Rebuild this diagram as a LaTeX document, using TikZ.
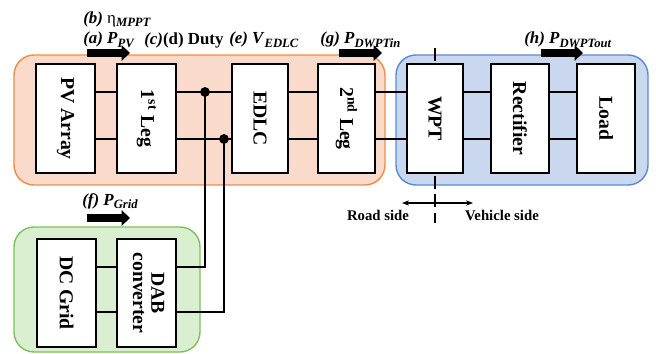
\documentclass[tikz,border=0pt]{standalone}
\usepackage{fontspec}
\usepackage{graphicx}
\usepackage{tikz}
\setmainfont{Liberation Serif}
\usetikzlibrary{arrows.meta}
\definecolor{roadfill}{HTML}{FADACA}
\definecolor{roadedge}{HTML}{F08C45}
\definecolor{carfill}{HTML}{CAD8EF}
\definecolor{caredge}{HTML}{5A8AD6}
\definecolor{gridfill}{HTML}{DAEFD0}
\definecolor{gridedge}{HTML}{7CC25A}
\def\px{0.025cm}
\newcommand{\bi}[1]{\textbf{\textit{#1}}}
\newcommand{\lowsub}[1]{\raisebox{-2.6pt}{\fontsize{9}{9}\selectfont\bi{#1}}}
\newcommand{\vtext}[1]{\rotatebox{-90}{#1}}
\tikzset{
  region/.style={rounded corners=20*\px, line width=1pt},
  blk/.style={draw=black, fill=white, line width=2.1pt, inner sep=0pt,
    minimum height=109*\px, font=\fontsize{14}{15}\selectfont\bfseries},
  wire/.style={draw=black, line width=1.5pt},
  power/.style={draw=black, line width=5pt, -{Triangle[length=6pt, width=11pt]}},
  qty/.style={font=\fontsize{12}{13}\selectfont, anchor=west, inner sep=0pt},
  side/.style={font=\fontsize{10.5}{11}\selectfont\bfseries, inner sep=0pt},
  dot/.style={circle, fill=black, inner sep=0pt, minimum size=7pt},
}

\begin{document}
\begin{tikzpicture}[x=\px, y=-\px]

  \useasboundingbox (0,0) rectangle (656,354);

  \filldraw[region, fill=roadfill, draw=roadedge] (14,55) rectangle (385,185);
  \filldraw[region, fill=carfill, draw=caredge] (396,55) rectangle (648,185);
  \filldraw[region, fill=gridfill, draw=gridedge] (14,227) rectangle (200,352);

  % road / vehicle boundary
  \draw[line width=1.5pt, dash pattern=on 9pt off 4pt] (435,48) -- (435,223);
  \draw[line width=0.8pt, {Stealth[length=5pt]}-{Stealth[length=5pt]}] (402,203) -- (473,203);
  \node[side] (road) at (378,215) {Road side};
  \node[side] (vehicle) at (502,215) {Vehicle side};

  \node[blk, minimum width=59*\px] (pv) at (65.5,118.5) {\vtext{PV Array}};
  \node[blk, minimum width=59*\px] (leg1) at (146.5,118.5) {\vtext{1\textsuperscript{st} Leg}};
  \node[blk, minimum width=56*\px] (edlc) at (260,118.5) {\vtext{EDLC}};
  \node[blk, minimum width=57*\px] (leg2) at (346.5,118.5) {\vtext{2\textsuperscript{nd} Leg}};
  \node[blk, minimum width=56*\px] (wpt) at (435,118.5) {\vtext{WPT}};
  \node[blk, minimum width=58*\px] (rect) at (520,118.5) {\vtext{Rectifier}};
  \node[blk, minimum width=58*\px] (load) at (606,118.5) {\vtext{Load}};

  \node[blk, minimum width=59*\px, minimum height=108*\px] (grid) at (66.5,293) {\vtext{DC Grid}};
  \node[blk, minimum width=59*\px, minimum height=108*\px] (dab) at (146.5,293)
    {\vtext{\begin{tabular}{@{}c@{}}DAB\\[-2pt]converter\end{tabular}}};

  \foreach \a/\b in {pv/leg1, leg1/edlc, edlc/leg2, leg2/wpt, wpt/rect, rect/load}{
    \draw[wire] (\a.east |- 0,92) -- (\b.west |- 0,92);
    \draw[wire] (\a.east |- 0,139) -- (\b.west |- 0,139);
  }
  \draw[wire] (grid.east |- 0,267) -- (dab.west |- 0,267);
  \draw[wire] (grid.east |- 0,312) -- (dab.west |- 0,312);

  \node[dot] (j1) at (205,92) {};
  \node[dot] (j2) at (224,139) {};
  \draw[wire] (j1.center) |- (dab.east |- 0,267);
  \draw[wire] (j2.center) |- (dab.east |- 0,312);

  \draw[power] (87,53) -- (130,53);
  \draw[power] (339,53) -- (382,53);
  \draw[power] (541,53) -- (583,53);
  \draw[power] (87,218) -- (130,218);

  \node[qty] (eta) at (83,19) {\bi{(b)} η\lowsub{MPPT}};
  \node[qty] (ppv) at (83,40) {\bi{(a) P}\lowsub{PV}};
  \node[qty] (duty) at (144,40) {\bi{(c)}\textbf{(d) Duty}};
  \node[qty] (vedlc) at (229,40) {\bi{(e) V}\lowsub{EDLC}};
  \node[qty] (pin) at (320,40) {\bi{(g) P}\lowsub{DWPTin}};
  \node[qty] (pout) at (524,40) {\bi{(h) P}\lowsub{DWPTout}};
  \node[qty] (pgrid) at (82,201) {\bi{(f) P}\lowsub{Grid}};

\end{tikzpicture}
\end{document}
